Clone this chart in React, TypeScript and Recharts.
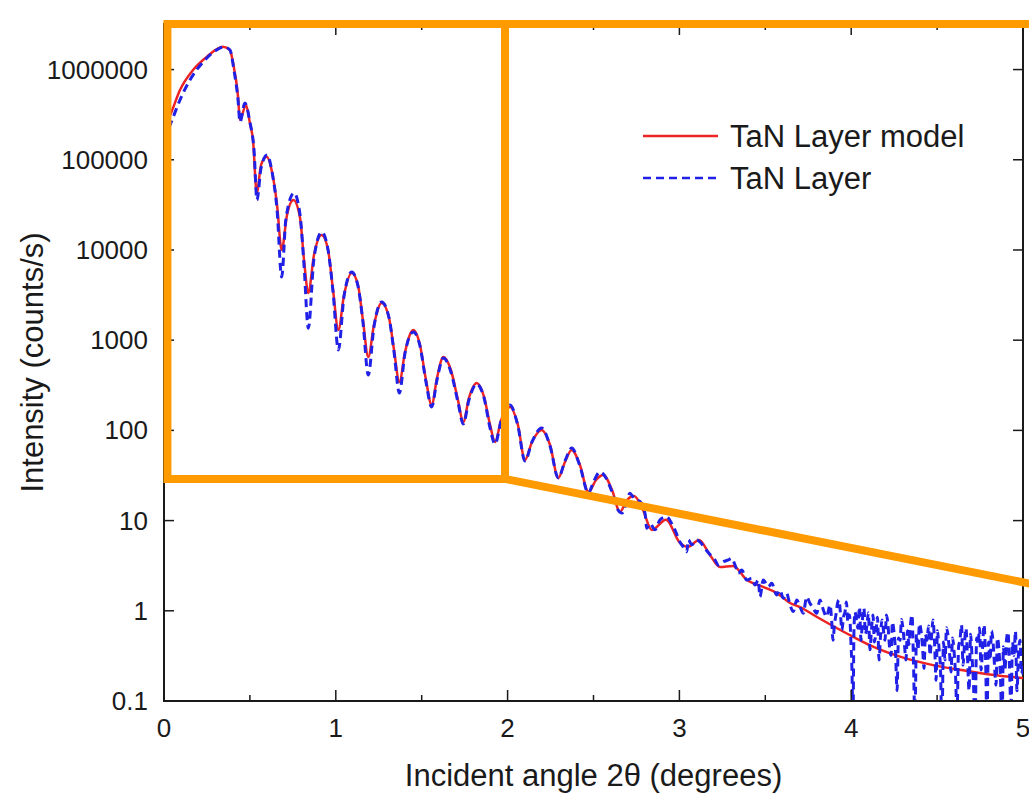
import React from "react";
import {
  LineChart,
  Line,
  XAxis,
  YAxis,
  ReferenceArea,
  ReferenceLine,
  Legend,
} from "recharts";

// TaN layer model (fitted curve)
const modelAngle = [
  0.0, 0.041, 0.093, 0.169, 0.25, 0.343, 0.384, 0.402, 0.431, 0.442, 0.477, 0.5,
  0.518, 0.54, 0.565, 0.598, 0.629, 0.658, 0.685, 0.716, 0.753, 0.792, 0.815,
  0.84, 0.873, 0.918, 0.955, 0.984, 1.015, 1.048, 1.093, 1.129, 1.158, 1.189,
  1.222, 1.267, 1.31, 1.339, 1.37, 1.403, 1.451, 1.49, 1.525, 1.558, 1.589,
  1.626, 1.67, 1.711, 1.742, 1.775, 1.82, 1.863, 1.898, 1.927, 1.962, 2.014,
  2.06, 2.101, 2.142, 2.198, 2.247, 2.295, 2.334, 2.373, 2.421, 2.47, 2.515,
  2.557, 2.608, 2.654, 2.695, 2.736, 2.788, 2.839, 2.922, 3.003, 3.05, 3.114,
  3.178, 3.236, 3.312, 3.393, 3.487, 3.568, 3.644, 3.702, 3.801, 3.894, 4.01,
  4.127, 4.284, 4.476, 4.674, 4.866, 5.0,
];
const modelIntensity = [
  225000, 330000, 594000, 990000, 1390000, 1790000, 1650000, 1180000, 500000,
  276000, 405000, 256000, 166000, 42800, 87600, 108000, 73000, 31500, 10000,
  24400, 35800, 22600, 7750, 3340, 8800, 14700, 10000, 3600, 1300, 3170, 5560,
  4090, 1670, 651, 1470, 2580, 1760, 778, 344, 740, 1300, 885, 362, 191, 381,
  651, 467, 217, 124, 229, 335, 235, 115, 74.4, 130, 182, 115, 47, 74.4, 101,
  68.9, 29.7, 44.6, 60.6, 41.3, 20.7, 28.2, 32, 21.8, 12.5, 16.9, 18.7, 13.1,
  7.87, 10.2, 5.65, 5.1, 6.1, 4.16, 3.06, 3.14, 2.19, 1.84, 1.57, 1.22, 1.1,
  0.853, 0.678, 0.516, 0.4, 0.31, 0.25, 0.215, 0.19, 0.18,
];

// TaN layer measurement (dashed), fringes up to ~3.86 deg
const measuredAngle = [
  0.0, 0.047, 0.093, 0.151, 0.227, 0.297, 0.349, 0.384, 0.407, 0.431, 0.442,
  0.471, 0.5, 0.524, 0.541, 0.565, 0.6, 0.629, 0.658, 0.685, 0.71, 0.757, 0.792,
  0.815, 0.84, 0.873, 0.918, 0.955, 0.984, 1.015, 1.048, 1.093, 1.129, 1.158,
  1.189, 1.222, 1.267, 1.31, 1.339, 1.37, 1.403, 1.451, 1.49, 1.525, 1.558,
  1.589, 1.626, 1.67, 1.711, 1.742, 1.775, 1.82, 1.863, 1.898, 1.927, 1.962,
  2.014, 2.06, 2.101, 2.142, 2.198, 2.247, 2.295, 2.334, 2.373, 2.421, 2.47,
  2.5, 2.537, 2.573, 2.608, 2.643, 2.666, 2.69, 2.712, 2.73, 2.751, 2.771, 2.8,
  2.81, 2.829, 2.858, 2.887, 2.926, 2.955, 2.974, 3.003, 3.023, 3.043, 3.052,
  3.072, 3.101, 3.12, 3.149, 3.178, 3.207, 3.226, 3.256, 3.285, 3.304, 3.324,
  3.343, 3.363, 3.392, 3.421, 3.44, 3.459, 3.469, 3.488, 3.518, 3.537, 3.566,
  3.585, 3.605, 3.624, 3.644, 3.663, 3.683, 3.702, 3.721, 3.741, 3.76, 3.779,
  3.799, 3.818, 3.838, 3.857,
];
const measuredIntensity = [
  166000, 276000, 460000, 767000, 1210000, 1610000, 1780000, 1650000, 990000,
  460000, 262000, 426000, 262000, 128000, 35800, 81000, 113000, 73000, 27800,
  5020, 22600, 42800, 24400, 6800, 1360, 8100, 15800, 10000, 3420, 778, 3090,
  5700, 3990, 1590, 411, 1400, 2650, 1760, 740, 260, 721, 1230, 863, 344, 182,
  362, 635, 444, 206, 118, 217, 327, 229, 106, 70.6, 127, 191, 112, 45.8, 74.4,
  106, 67.1, 29.7, 45.8, 63.8, 40.3, 20.2, 26.8, 34.6, 29.7, 20.7, 13.1, 12.1,
  15.5, 20.1, 18.4, 16.9, 16.2, 12.0, 8.2, 9.3, 7.9, 10.2, 11.0, 9.3, 7.9, 5.8,
  5.1, 4.5, 6.1, 5.4, 6.1, 5.8, 4.9, 4.2, 3.66, 3.22, 3.5, 3.66, 3.82, 3.22,
  2.6, 2.83, 2.19, 2.29, 1.93, 2.19, 1.43, 2.19, 1.85, 2.02, 1.5, 1.7, 1.38,
  1.56, 1.16, 0.98, 1.32, 1.11, 0.94, 1.43, 1.21, 1.07, 0.94, 1.32, 1.02, 0.86,
];

// noisy high-angle tail of the measurement
const tailAngle = [
  3.877, 3.886, 3.894, 3.903, 3.911, 3.92, 3.929, 3.937, 3.946, 3.955,
  3.964, 3.972, 3.981, 3.99, 3.999, 4.005, 4.01, 4.016, 4.022, 4.03,
  4.039, 4.048, 4.057, 4.066, 4.074, 4.083, 4.092, 4.1, 4.109, 4.118,
  4.127, 4.135, 4.144, 4.153, 4.162, 4.17, 4.179, 4.188, 4.197, 4.205,
  4.214, 4.223, 4.232, 4.24, 4.249, 4.258, 4.267, 4.275, 4.284, 4.293,
  4.301, 4.31, 4.319, 4.327, 4.336, 4.345, 4.354, 4.362, 4.371, 4.38,
  4.389, 4.397, 4.406, 4.415, 4.424, 4.432, 4.441, 4.45, 4.459, 4.467,
  4.476, 4.485, 4.494, 4.502, 4.511, 4.52, 4.528, 4.537, 4.546, 4.555,
  4.563, 4.572, 4.581, 4.59, 4.598, 4.607, 4.616, 4.625, 4.633, 4.642,
  4.651, 4.66, 4.668, 4.677, 4.686, 4.695, 4.703, 4.712, 4.721, 4.73,
  4.738, 4.747, 4.756, 4.765, 4.773, 4.782, 4.79, 4.799, 4.808, 4.817,
  4.825, 4.834, 4.843, 4.851, 4.86, 4.869, 4.878, 4.886, 4.895, 4.904,
  4.913, 4.921, 4.93, 4.939, 4.948, 4.956, 4.965, 4.974, 4.983, 4.991,
  5.0,
];
const tailIntensity = [
  1.16, 0.8, 0.47, 0.72, 0.9, 1.2, 1.32, 0.95, 0.61, 0.85,
  0.97, 1.25, 0.75, 0.9, 0.42, 0.2, 0.05, 0.6, 0.97, 0.8,
  0.64, 1.1, 0.47, 0.82, 1.07, 0.55, 0.7, 0.95, 0.37, 0.62,
  0.9, 0.45, 0.58, 0.85, 0.285, 0.5, 0.79, 0.6, 0.47, 0.9,
  0.7, 0.4, 0.32, 0.75, 0.58, 0.35, 0.13, 0.5, 0.47, 0.8,
  0.64, 0.42, 0.285, 0.6, 0.42, 0.7, 0.9, 0.3, 0.06, 0.55,
  0.37, 0.72, 0.61, 0.4, 0.23, 0.55, 0.47, 0.68, 0.32, 0.5,
  0.79, 0.45, 0.17, 0.6, 0.39, 0.22, 0.05, 0.45, 0.285, 0.65,
  0.54, 0.35, 0.21, 0.5, 0.37, 0.2, 0.07, 0.4, 0.47, 0.7,
  0.25, 0.45, 0.64, 0.3, 0.13, 0.55, 0.32, 0.15, 0.05, 0.5,
  0.42, 0.65, 0.22, 0.4, 0.7, 0.3, 0.06, 0.45, 0.285, 0.6,
  0.47, 0.25, 0.15, 0.5, 0.37, 0.18, 0.05, 0.4, 0.22, 0.48,
  0.58, 0.25, 0.08, 0.45, 0.32, 0.6, 0.13, 0.35, 0.47, 0.2,
  0.25,
];

const seriesNames = ["TaN Layer model", "TaN Layer"];
const xTicks = [0, 0.5, 1, 1.5, 2, 2.5, 3, 3.5, 4, 4.5, 5];
const yTicks = [0.1, 1, 10, 100, 1000, 10000, 100000, 1000000];
const yTickLabels = ["0.1", "1", "10", "100", "1000", "10000", "100000", "1000000"];

const W = 1029;
const H = 795;
const MARGIN = { top: 24, right: 6, bottom: 0, left: 0 };
const Y_AXIS_W = 164;
const X_AXIS_H = 94;
const PLOT_RIGHT = W - MARGIN.right;
const PLOT_TOP = MARGIN.top;
const Y_MAX = 3.2e6;

const FONT = '"Liberation Sans", Arial, Helvetica, sans-serif';
const INK = "#1a1a1a";
const RED = "#ee2424";
const BLUE = "#2020e6";
const ORANGE = "#ff9a00";
const DASH = "8 5";

const model = modelAngle.map((x, i) => ({ x, y: modelIntensity[i] }));
const measured = measuredAngle
  .map((x, i) => ({ x, y: measuredIntensity[i] }))
  .concat(tailAngle.map((x, i) => ({ x, y: tailIntensity[i] })));

// ticks point inward and are mirrored on the top / right frame
function XTick({ x, y, payload }: any) {
  const v = payload.value;
  const major = Number.isInteger(v);
  const len = major ? 11 : 6;
  return (
    <g>
      <line x1={x} x2={x} y1={y} y2={y - len} stroke={INK} strokeWidth={1.5} />
      <line x1={x} x2={x} y1={PLOT_TOP} y2={PLOT_TOP + len} stroke={INK} strokeWidth={1.5} />
      {major && (
        <text x={x} y={y + 36} textAnchor="middle" fontSize={26} fontFamily={FONT} fill={INK}>
          {v}
        </text>
      )}
    </g>
  );
}

function YTick({ x, y, payload }: any) {
  const i = yTicks.indexOf(payload.value);
  const label = i >= 0 ? yTickLabels[i] : String(payload.value);
  return (
    <g>
      <line x1={x} x2={x + 10} y1={y} y2={y} stroke={INK} strokeWidth={1.5} />
      <line x1={PLOT_RIGHT} x2={PLOT_RIGHT - 10} y1={y} y2={y} stroke={INK} strokeWidth={1.5} />
      <text x={x - 16} y={y + 9} textAnchor="end" fontSize={26} fontFamily={FONT} fill={INK}>
        {label}
      </text>
    </g>
  );
}

function LegendBox({ payload }: any) {
  // keep drawing order (model first), recharts sorts by name otherwise
  const items = (payload || [])
    .slice()
    .sort((a: any, b: any) => seriesNames.indexOf(a.value) - seriesNames.indexOf(b.value));
  return (
    <div style={{ fontFamily: FONT, color: INK }}>
      {items.map((it: any) => (
        <div key={it.value} style={{ display: "flex", alignItems: "center", height: 42 }}>
          <svg width={75} height={8}>
            <line
              x1={0}
              x2={75}
              y1={4}
              y2={4}
              stroke={it.color}
              strokeWidth={2.5}
              strokeDasharray={it.payload?.strokeDasharray}
            />
          </svg>
          <span style={{ fontSize: 31, lineHeight: 1, marginLeft: 12 }}>{it.value}</span>
        </div>
      ))}
    </div>
  );
}

export default function App() {
  return (
    <div style={{ position: "absolute", left: 0, top: 0, width: W, height: H, background: "#fff" }}>
      <LineChart width={W} height={H} margin={MARGIN}>
        <XAxis
          type="number"
          dataKey="x"
          domain={[0, 5]}
          allowDataOverflow
          ticks={xTicks}
          interval={0}
          tick={XTick}
          tickLine={false}
          tickSize={0}
          tickMargin={0}
          height={X_AXIS_H}
          axisLine={{ stroke: INK, strokeWidth: 2 }}
          label={{
            value: "Incident angle 2θ (degrees)",
            position: "insideBottom",
            offset: 9,
            style: { fontSize: 31, fontFamily: FONT, fill: INK },
          }}
        />
        <YAxis
          type="number"
          scale="log"
          domain={[0.1, Y_MAX]}
          allowDataOverflow
          ticks={yTicks}
          interval={0}
          tick={YTick}
          tickLine={false}
          tickSize={0}
          tickMargin={0}
          width={Y_AXIS_W}
          axisLine={{ stroke: INK, strokeWidth: 2 }}
          label={{
            value: "Intensity (counts/s)",
            angle: -90,
            position: "insideLeft",
            offset: 32,
            style: { fontSize: 31, fontFamily: FONT, fill: INK, textAnchor: "middle" },
          }}
        />
        <Line
          data={model}
          dataKey="y"
          name={seriesNames[0]}
          type="monotone"
          stroke={RED}
          strokeWidth={2.5}
          dot={false}
          isAnimationActive={false}
        />
        <Line
          data={measured}
          dataKey="y"
          name={seriesNames[1]}
          type="monotone"
          stroke={BLUE}
          strokeWidth={3}
          strokeDasharray={DASH}
          dot={false}
          isAnimationActive={false}
        />
        {/* plot frame */}
        <ReferenceArea x1={0} x2={5} y1={0.1} y2={Y_MAX} fill="none" stroke={INK} strokeWidth={2} />
        {/* orange zoom-inset marker */}
        <ReferenceArea
          x1={0.02}
          x2={1.985}
          y1={29}
          y2={Y_MAX}
          fill="none"
          stroke={ORANGE}
          strokeWidth={8}
          zIndex={2000}
        />
        <ReferenceLine
          segment={[{ x: 1.985, y: Y_MAX }, { x: 5.04, y: Y_MAX }]}
          stroke={ORANGE}
          strokeWidth={8}
          ifOverflow="visible"
          zIndex={2000}
        />
        <ReferenceLine
          segment={[{ x: 1.985, y: 29 }, { x: 5.04, y: 2.0 }]}
          stroke={ORANGE}
          strokeWidth={8}
          ifOverflow="visible"
          zIndex={2000}
        />
        <Legend
          layout="vertical"
          align="center"
          verticalAlign="middle"
          wrapperStyle={{ top: 115, left: 643, width: 380 }}
          content={<LegendBox />}
        />
      </LineChart>
    </div>
  );
}
